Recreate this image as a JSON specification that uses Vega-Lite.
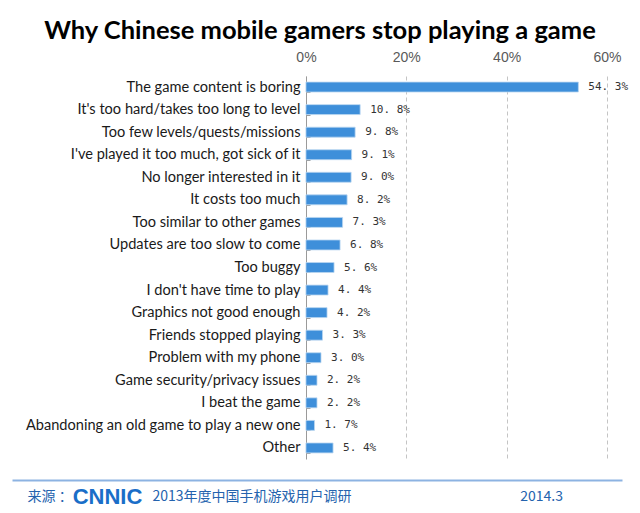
{
  "$schema": "https://vega.github.io/schema/vega-lite/v6.json",
  "background": "white",
  "padding": {"left": 12, "top": 18, "right": 5, "bottom": 2},
  "title": {
    "text": "Why Chinese mobile gamers stop playing a game",
    "font": "Lato",
    "fontSize": 25.5,
    "fontWeight": "bold",
    "color": "#000000",
    "anchor": "middle",
    "dx": 3,
    "offset": 6
  },
  "width": 610,
  "height": 383,
  "data": {
    "values": [
      {"reason": "The game content is boring", "value": 54.3, "label": "54. 3%"},
      {"reason": "It's too hard/takes too long to level", "value": 10.8, "label": "10. 8%"},
      {"reason": "Too few levels/quests/missions", "value": 9.8, "label": "9. 8%"},
      {"reason": "I've played it too much, got sick of it", "value": 9.1, "label": "9. 1%"},
      {"reason": "No longer interested in it", "value": 9.0, "label": "9. 0%"},
      {"reason": "It costs too much", "value": 8.2, "label": "8. 2%"},
      {"reason": "Too similar to other games", "value": 7.3, "label": "7. 3%"},
      {"reason": "Updates are too slow to come", "value": 6.8, "label": "6. 8%"},
      {"reason": "Too buggy", "value": 5.6, "label": "5. 6%"},
      {"reason": "I don't have time to play", "value": 4.4, "label": "4. 4%"},
      {"reason": "Graphics not good enough", "value": 4.2, "label": "4. 2%"},
      {"reason": "Friends stopped playing", "value": 3.3, "label": "3. 3%"},
      {"reason": "Problem with my phone", "value": 3.0, "label": "3. 0%"},
      {"reason": "Game security/privacy issues", "value": 2.2, "label": "2. 2%"},
      {"reason": "I beat the game", "value": 2.2, "label": "2. 2%"},
      {"reason": "Abandoning an old game to play a new one", "value": 1.7, "label": "1. 7%"},
      {"reason": "Other", "value": 5.4, "label": "5. 4%"}
    ]
  },
  "encoding": {
    "y": {
      "field": "reason",
      "type": "nominal",
      "sort": null,
      "scale": {"paddingInner": 0.56, "paddingOuter": 0.27},
      "axis": {
        "title": null,
        "offset": -294,
        "labelFont": "Lato",
        "labelFontSize": 14.6,
        "labelColor": "#1a1a1a",
        "labelAlign": "right",
        "labelPadding": 10,
        "labelLimit": 400,
        "domain": true,
        "domainColor": "#9a9a9a",
        "ticks": true,
        "tickColor": "#9a9a9a",
        "tickSize": -4,
        "tickBand": "extent",
        "grid": false
      }
    }
  },
  "layer": [
    {
      "mark": {"type": "bar", "color": "#3e8fda", "stroke": "#b9d6f0", "strokeWidth": 0.8},
      "encoding": {
        "x": {
          "field": "value",
          "type": "quantitative",
          "scale": {"domain": [-58.6, 63.0], "nice": false, "zero": false},
          "axis": {
            "orient": "top",
            "title": null,
            "values": [0, 20, 40, 60],
            "labelExpr": "datum.value + '%'",
            "labelFont": "Liberation Sans",
            "labelFontSize": 14,
            "labelColor": "#595959",
            "labelPadding": 12,
            "labelFlush": false,
            "domain": false,
            "ticks": false,
            "grid": true,
            "gridDash": [4, 3],
            "gridColor": "#c4c4c4",
            "gridWidth": 1
          }
        }
      }
    },
    {
      "mark": {"type": "text", "align": "left", "baseline": "middle", "dx": 10, "font": "DejaVu Sans Mono", "fontSize": 11, "color": "#333333"},
      "encoding": {
        "x": {
          "field": "value",
          "type": "quantitative",
          "axis": {
            "orient": "bottom",
            "title": null,
            "offset": 21,
            "grid": false,
            "ticks": false,
            "domain": true,
            "domainColor": "#8db3e2",
            "domainWidth": 2,
            "values": [-55.6, -46.6, -30.7, 42.6],
            "labelExpr": "datum.value < -50 ? '来源 ：' : datum.value < -40 ? 'CNNIC' : datum.value < 0 ? '2013年度中国手机游戏用户调研' : '2014.3'",
            "labelAlign": "left",
            "labelBaseline": "middle",
            "labelPadding": 16,
            "labelFlush": false,
            "labelOverlap": false,
            "labelBound": false,
            "labelLimit": 400,
            "labelColor": {"condition": {"test": "datum.value == -46.6", "value": "#1a6ec8"}, "value": "#2463ae"},
            "labelFont": {"condition": {"test": "datum.value == -46.6", "value": "Liberation Sans"}, "value": "Noto Sans CJK SC"},
            "labelFontSize": {"condition": {"test": "datum.value == -46.6", "value": 22}, "value": 14},
            "labelFontWeight": {"condition": {"test": "datum.value == -46.6", "value": "bold"}, "value": "normal"}
          }
        },
        "text": {"field": "label"}
      }
    }
  ],
  "resolve": {"axis": {"x": "independent"}},
  "config": {
    "view": {"stroke": null}
  }
}
